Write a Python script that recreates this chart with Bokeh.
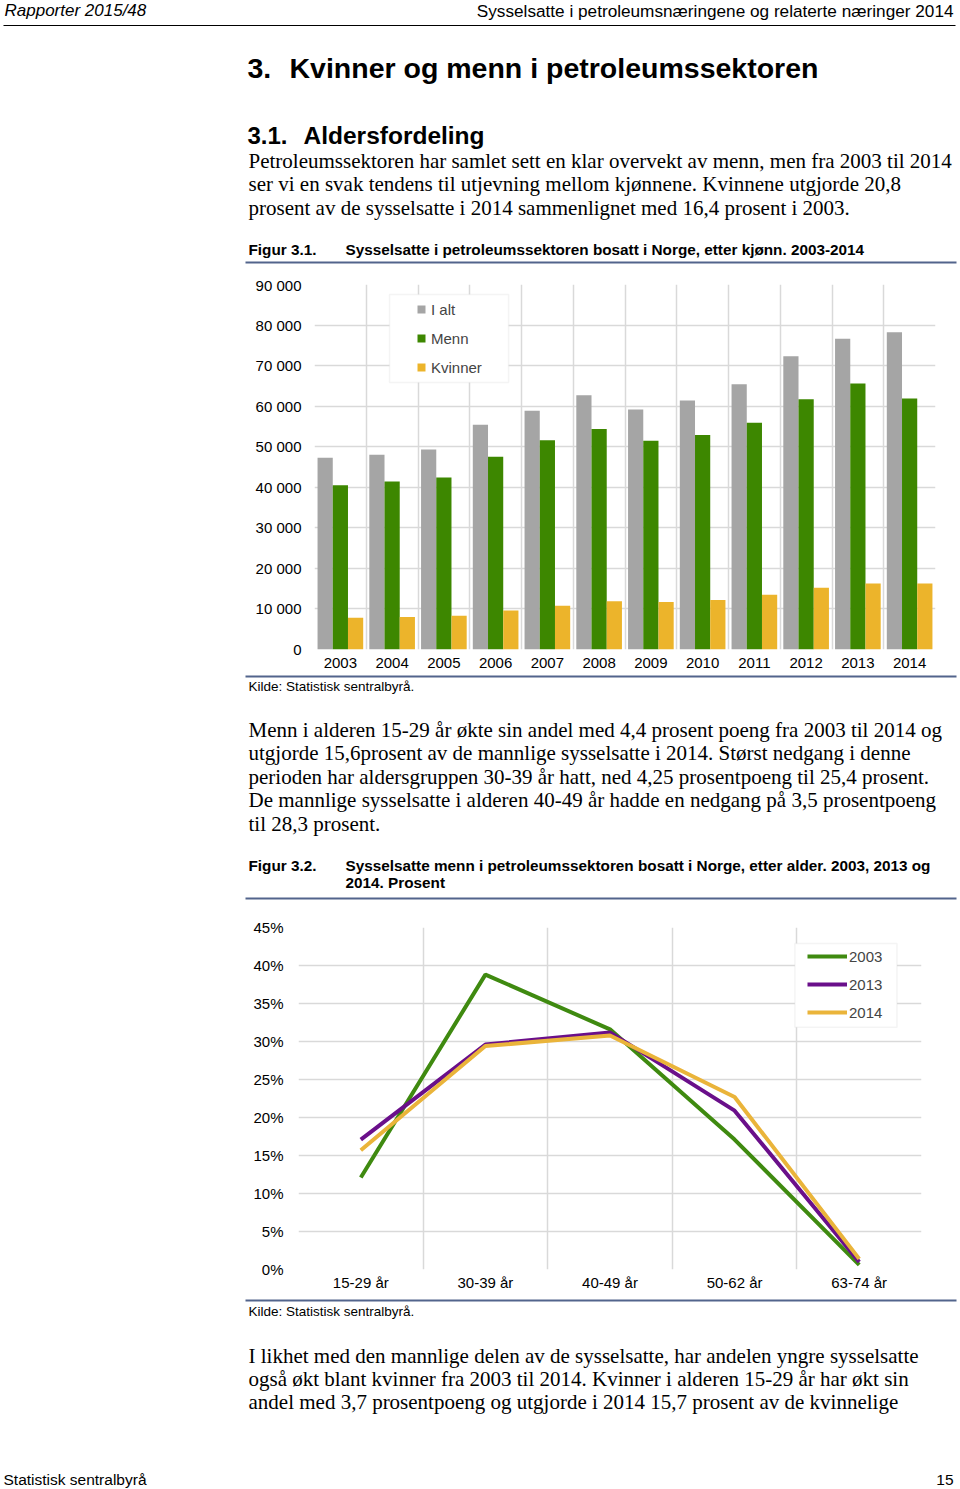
from bokeh.plotting import figure
from bokeh.models import (Range1d, FixedTicker, Label, Legend, LegendItem,
                          BoxAnnotation, ColumnDataSource, Plot)
from bokeh.layouts import column
from bokeh.transform import dodge
from bokeh.embed import file_html
from bokeh.resources import INLINE

# ---------------- data ----------------
years = ["2003", "2004", "2005", "2006", "2007", "2008",
         "2009", "2010", "2011", "2012", "2013", "2014"]
i_alt = [47300, 48000, 49300, 55400, 58900, 62700,
         59200, 61400, 65400, 72300, 76600, 78200]
menn = [40500, 41400, 42400, 47500, 51600, 54400,
        51500, 52900, 55900, 61700, 65600, 61900]
kvinner = [7800, 8000, 8300, 9600, 10800, 11900,
           11700, 12200, 13500, 15200, 16300, 16300]
bar_ticks = [0, 10000, 20000, 30000, 40000, 50000, 60000, 70000, 80000, 90000]

age_groups = ["15-29 år", "30-39 år", "40-49 år", "50-62 år", "63-74 år"]
share_2003 = [12.1, 38.8, 31.6, 17.1, 0.6]
share_2013 = [17.1, 29.6, 31.2, 20.9, 1.0]
share_2014 = [15.7, 29.4, 30.8, 22.7, 1.4]
pct_ticks = [0, 5, 10, 15, 20, 25, 30, 35, 40, 45]

SANS = "Liberation Sans"
SERIF = "Liberation Serif"
RULE = "#52648c"
GRID = "#d9d9d9"
W = 960
NOALIGN = {"frame_align": False} if "frame_align" in Plot.properties() else {}


def text_fig(h):
    p = figure(width=W, height=h, x_range=Range1d(0, W), y_range=Range1d(h, 0),
               x_axis_location=None, y_axis_location=None, min_border=0,
               toolbar_location=None, output_backend="svg", **NOALIGN)
    p.outline_line_color = None
    p.grid.visible = False
    return p


def put(p, x, y, s, size, font=SANS, style="normal", align="left",
        baseline="middle", color="black"):
    p.add_layout(Label(x=x, y=y, text=s, text_font=font,
                       text_font_size=f"{size}px", text_font_style=style,
                       text_align=align, text_baseline=baseline,
                       text_color=color))


def rule(p, x0, x1, y, color, w):
    p.segment(x0=[x0], y0=[y], x1=[x1], y1=[y], line_color=color, line_width=w)


def style_axes(p, xstand, ystand):
    for ax in (p.xaxis[0], p.yaxis[0]):
        ax.axis_line_color = None
        ax.major_tick_line_color = None
        ax.minor_tick_line_color = None
        ax.major_label_text_font = SANS
        ax.major_label_text_font_size = "15px"
        ax.major_label_text_color = "black"
    p.xaxis[0].major_label_standoff = xstand
    p.yaxis[0].major_label_standoff = ystand
    p.grid.grid_line_color = GRID
    p.grid.grid_line_width = 1.5
    p.outline_line_color = None


# ---------------- text block 1 (page y 0-276) ----------------
t1 = text_fig(276)
put(t1, 4, 10, "Rapporter 2015/48", 17, style="italic")
put(t1, 953, 10, "Sysselsatte i petroleumsnæringene og relaterte næringer 2014", 17.2,
    align="right")
rule(t1, 3, 955, 25, "black", 1.2)
put(t1, 247, 67.5, "3.", 28.5, style="bold")
put(t1, 289, 67.5, "Kvinner og menn i petroleumssektoren", 28.5, style="bold")
put(t1, 247, 134.5, "3.1.", 24, style="bold")
put(t1, 303, 134.5, "Aldersfordeling", 24.5, style="bold")
para1 = ["Petroleumssektoren har samlet sett en klar overvekt av menn, men fra 2003 til 2014",
         "ser vi en svak tendens til utjevning mellom kjønnene. Kvinnene utgjorde 20,8",
         "prosent av de sysselsatte i 2014 sammenlignet med 16,4 prosent i 2003."]
for k, line in enumerate(para1):
    put(t1, 248, [160, 183, 207][k], line, 21, font=SERIF)
put(t1, 248, 249, "Figur 3.1.", 15.3, style="bold")
put(t1, 345, 249, "Sysselsatte i petroleumssektoren bosatt i Norge, etter kjønn. 2003-2014",
    15.3, style="bold")
rule(t1, 245, 956, 262, RULE, 2)

# ---------------- chart 1 (page y 276-672) ----------------
n = len(years)
centers = [i + 0.5 for i in range(n)]
src = ColumnDataSource(dict(x=centers, i_alt=i_alt, menn=menn, kvinner=kvinner))
c1 = figure(width=W, height=396, x_range=Range1d(0, n), y_range=Range1d(0, 90000),
            min_border_left=314, min_border_right=25, min_border_top=8,
            min_border_bottom=23, toolbar_location=None, output_backend="svg",
            **NOALIGN)
bw = 0.294
cols1 = {"i_alt": "#a5a5a5", "menn": "#3d8700", "kvinner": "#ecb42b"}
offs = {"i_alt": -bw, "menn": 0.0, "kvinner": bw}
dummies = {}
for key in ["i_alt", "menn", "kvinner"]:
    c1.vbar(x=dodge("x", offs[key]), top=key, width=bw, source=src,
            fill_color=cols1[key], line_color=None)
    dummies[key] = c1.scatter(x="x", y=key, source=src, marker="square", size=0,
                              fill_color=cols1[key], line_color=None)
c1.xaxis[0].ticker = FixedTicker(ticks=centers)
c1.xaxis[0].major_label_overrides = {c: y for c, y in zip(centers, years)}
c1.yaxis[0].ticker = FixedTicker(ticks=bar_ticks)
c1.yaxis[0].major_label_overrides = {v: f"{v:,}".replace(",", " ") for v in bar_ticks}
c1.xgrid[0].ticker = FixedTicker(ticks=list(range(n + 1)))
c1.ygrid[0].ticker = FixedTicker(ticks=bar_ticks)
style_axes(c1, 2, 7)
c1.add_layout(BoxAnnotation(left=1.45, right=3.75, bottom=65840, top=87510,
                            fill_color="white", fill_alpha=1.0,
                            line_color=GRID, line_width=1.5))
leg1 = Legend(items=[LegendItem(label="I alt", renderers=[dummies["i_alt"]]),
                     LegendItem(label="Menn", renderers=[dummies["menn"]]),
                     LegendItem(label="Kvinner", renderers=[dummies["kvinner"]])],
              location=(97, 272), glyph_width=20, glyph_height=20, label_height=20,
              label_standoff=-2, spacing=9, padding=0, margin=0,
              border_line_color=None, background_fill_alpha=0,
              label_text_font=SANS, label_text_font_size="15px")
c1.add_layout(leg1)

# ---------------- text block 2 (page y 672-906) ----------------
t2 = text_fig(234)
o2 = 672
rule(t2, 245, 956, 676 - o2, RULE, 2)
put(t2, 248, 686 - o2, "Kilde: Statistisk sentralbyrå.", 13.5)
para2 = ["Menn i alderen 15-29 år økte sin andel med 4,4 prosent poeng fra 2003 til 2014 og",
         "utgjorde 15,6prosent av de mannlige sysselsatte i 2014. Størst nedgang i denne",
         "perioden har aldersgruppen 30-39 år hatt, ned 4,25 prosentpoeng til 25,4 prosent.",
         "De mannlige sysselsatte i alderen 40-49 år hadde en nedgang på 3,5 prosentpoeng",
         "til 28,3 prosent."]
for k, line in enumerate(para2):
    put(t2, 248, [729, 752, 776, 799, 823][k] - o2, line, 21, font=SERIF)
put(t2, 248, 865 - o2, "Figur 3.2.", 15.3, style="bold")
put(t2, 345, 865 - o2, "Sysselsatte menn i petroleumssektoren bosatt i Norge, etter alder. 2003, 2013 og",
    15.3, style="bold")
put(t2, 345, 882 - o2, "2014. Prosent", 15.3, style="bold")
rule(t2, 245, 956, 898 - o2, RULE, 2)

# ---------------- chart 2 (page y 906-1296) ----------------
m = len(age_groups)
acenters = [i + 0.5 for i in range(m)]
c2 = figure(width=W, height=390, x_range=Range1d(0, m), y_range=Range1d(0, 45),
            min_border_left=298, min_border_right=39, min_border_top=21,
            min_border_bottom=27, toolbar_location=None, output_backend="svg",
            **NOALIGN)
lines = []
for vals, col in [(share_2003, "#3f8a10"), (share_2013, "#6a0f8a"), (share_2014, "#eab43a")]:
    lines.append(c2.line(x=acenters, y=vals, line_color=col, line_width=4))
c2.xaxis[0].ticker = FixedTicker(ticks=acenters)
c2.xaxis[0].major_label_overrides = {c: a for c, a in zip(acenters, age_groups)}
c2.yaxis[0].ticker = FixedTicker(ticks=pct_ticks)
c2.yaxis[0].major_label_overrides = {v: f"{v}%" for v in pct_ticks}
c2.xgrid[0].ticker = FixedTicker(ticks=list(range(m + 1)))
c2.ygrid[0].ticker = FixedTicker(ticks=pct_ticks)
style_axes(c2, -2, 9)
c2.add_layout(BoxAnnotation(left=3.984, right=4.803, bottom=31.86, top=42.9,
                            fill_color="white", fill_alpha=1.0,
                            line_color=GRID, line_width=1.5))
leg2 = Legend(items=[LegendItem(label="2003", renderers=[lines[0]]),
                     LegendItem(label="2013", renderers=[lines[1]]),
                     LegendItem(label="2014", renderers=[lines[2]])],
              location=(509, 247), glyph_width=40, glyph_height=20, label_height=20,
              label_standoff=2, spacing=8, padding=0, margin=0,
              border_line_color=None, background_fill_alpha=0,
              label_text_font=SANS, label_text_font_size="15px")
c2.add_layout(leg2)

# ---------------- text block 3 (page y 1296-1489) ----------------
t3 = text_fig(193)
o3 = 1296
rule(t3, 245, 956, 1300 - o3, RULE, 2)
put(t3, 248, 1311 - o3, "Kilde: Statistisk sentralbyrå.", 13.5)
para3 = ["I likhet med den mannlige delen av de sysselsatte, har andelen yngre sysselsatte",
         "også økt blant kvinner fra 2003 til 2014. Kvinner i alderen 15-29 år har økt sin",
         "andel med 3,7 prosentpoeng og utgjorde i 2014 15,7 prosent av de kvinnelige"]
for k, line in enumerate(para3):
    put(t3, 248, [1355, 1378, 1401][k] - o3, line, 21, font=SERIF)
put(t3, 3, 1479 - o3, "Statistisk sentralbyrå", 15.5)
put(t3, 953, 1479 - o3, "15", 15.5, align="right")

page = column(t1, c1, t2, c2, t3, spacing=0)
open("out.html", "w").write(file_html(page, INLINE))
